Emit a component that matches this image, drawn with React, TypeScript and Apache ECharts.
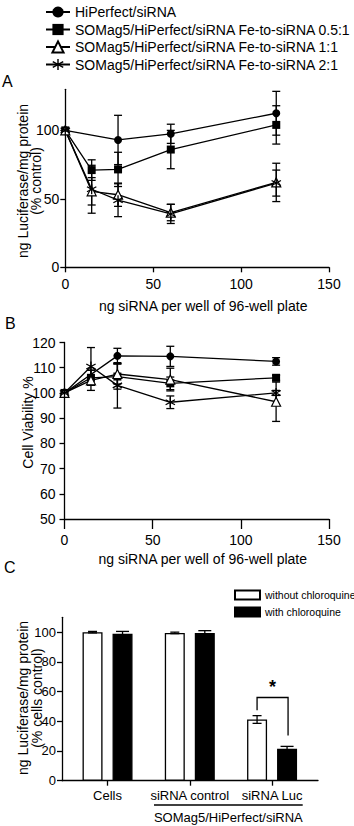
import React, { useEffect, useRef } from "react";
import * as echarts from "echarts";

// ---------- data ----------
const seriesNames = [
  "HiPerfect/siRNA",
  "SOMag5/HiPerfect/siRNA Fe-to-siRNA 0.5:1",
  "SOMag5/HiPerfect/siRNA Fe-to-siRNA 1:1",
  "SOMag5/HiPerfect/siRNA Fe-to-siRNA 2:1",
];

// Panel A: [ng siRNA, % control, error]
const aHiPerfect = [[0, 100, 0], [30, 93, 18], [60, 97.5, 7], [120, 112.5, 16]];
const aFe05 = [[0, 100, 0], [15, 71, 7.5], [30, 71.5, 12.5], [60, 86, 14], [120, 104, 14]];
const aFe1 = [[0, 100, 0], [15, 55.5, 10], [30, 53, 8.5], [60, 40, 6], [120, 62, 14]];
const aFe2 = [[0, 100, 0], [15, 57, 17.5], [30, 49, 12], [60, 39, 7], [120, 61.5, 9.5]];

// Panel B: [ng siRNA, cell viability %, error]
const bHiPerfect = [[0, 100, 0], [30, 114.7, 3], [60, 114.5, 4], [120, 112.5, 1.5]];
const bFe05 = [[0, 100, 0], [15, 106, 3], [30, 106.5, 5], [60, 103.8, 2.5], [120, 106, 1]];
const bFe1 = [[0, 100, 0], [15, 105, 4], [30, 107.5, 4], [60, 105.3, 4.5], [120, 96.5, 7.8]];
const bFe2 = [[0, 100, 0], [15, 110.5, 7.5], [30, 103, 9], [60, 96.3, 2.5], [120, 100, 1]];

// Panel C
const cCategories = ["Cells", "siRNA control", "siRNA Luc"];
const cWithout = [100, 99.5, 41.2];
const cWithoutErr = [0.5, 0.5, 2.6];
const cWith = [99, 99.5, 21.5];
const cWithErr = [1.5, 1.5, 1.6];
const cLegend = ["without chloroquine", "with chloroquine"];
// significance bracket: [category index, bracket level, left leg end, right leg end]
const cBracket = [[2, 56, 47.5, 30.5]];

const aXTicks = [0, 50, 100, 150];
const aYTicks = [0, 50, 100];
const bYTicks = [50, 60, 70, 80, 90, 100, 110, 120];
const cYTicks = [0, 20, 40, 60, 80, 100];

const FONT = "'Liberation Sans', Arial, sans-serif";
const STAR_PATH =
  "path://M-0.12,-1L0.12,-1L0.12,1L-0.12,1ZM0.926,0.396L0.806,0.604L-0.926,-0.396L-0.806,-0.604ZM0.806,-0.604L0.926,-0.396L-0.806,0.604L-0.926,0.396Z";

const symbols = [
  { symbol: "circle", size: 8, item: { color: "#000" } },
  { symbol: "rect", size: 8, item: { color: "#000" } },
  { symbol: "triangle", size: 9, item: { color: "#fff", borderColor: "#000", borderWidth: 1.2 } },
  { symbol: STAR_PATH, size: 10, item: { color: "#000" } },
];

function errRender(capHalf: number, offset = 0) {
  return (params: any, api: any) => {
    const x = api.value(0);
    const y = api.value(1);
    const e = api.value(2);
    if (!e) return null;
    const t = api.coord([x, y + e]);
    const b = api.coord([x, y - e]);
    const cx = t[0] + offset;
    const style = { stroke: "#000", lineWidth: 1.3 };
    return {
      type: "group",
      children: [
        { type: "line", shape: { x1: cx, y1: t[1], x2: cx, y2: b[1] }, style },
        { type: "line", shape: { x1: cx - capHalf, y1: t[1], x2: cx + capHalf, y2: t[1] }, style },
        { type: "line", shape: { x1: cx - capHalf, y1: b[1], x2: cx + capHalf, y2: b[1] }, style },
      ],
    };
  };
}

function lineSeries(data: number[][], idx: number, axis: number) {
  const s = symbols[idx];
  return [
    {
      type: "custom",
      xAxisIndex: axis,
      yAxisIndex: axis,
      data: data,
      encode: { x: 0, y: 1 },
      renderItem: errRender(4),
      z: 2,
      silent: true,
    },
    {
      type: "line",
      name: seriesNames[idx],
      xAxisIndex: axis,
      yAxisIndex: axis,
      data: data.map((d) => [d[0], d[1]]),
      symbol: s.symbol,
      symbolSize: s.size,
      showSymbol: true,
      itemStyle: s.item,
      lineStyle: { color: "#000", width: 1.3 },
      z: 3,
    },
  ];
}

function vText(text: string, x: number, y: number, size: number) {
  return {
    type: "text",
    x,
    y,
    rotation: Math.PI / 2,
    style: { text, fontSize: size, fontFamily: FONT, fill: "#000", align: "center", verticalAlign: "middle" },
  };
}

const axisLineStyle = { lineStyle: { color: "#000", width: 1.3 } };

export default function App() {
  const ref = useRef<HTMLDivElement>(null);
  useEffect(() => {
    if (!ref.current) return;
    const chart = echarts.init(ref.current, null, { renderer: "svg" });
    const option: any = {
      animation: false,
      textStyle: { fontFamily: FONT, color: "#000" },
      legend: [
        {
          orient: "vertical",
          left: 40,
          top: 0,
          itemWidth: 24,
          itemHeight: 14,
          itemGap: 3.5,
          selectedMode: false,
          textStyle: { fontSize: 14, color: "#000", fontFamily: FONT },
          data: seriesNames,
        },
        {
          orient: "vertical",
          left: 229,
          top: 584.5,
          itemWidth: 25,
          itemHeight: 9,
          itemGap: 6,
          icon: "rect",
          selectedMode: false,
          textStyle: { fontSize: 10.5, color: "#000", fontFamily: FONT },
          data: cLegend,
        },
      ],
      grid: [
        { left: 65.3, top: 89.3, width: 263.7, height: 178 },
        { left: 64.5, top: 342.5, width: 264.5, height: 176.5 },
        { left: 62, top: 617.3, width: 256, height: 163.4 },
        { left: 66.4, top: 617.3, width: 246.8, height: 163.4 },
      ],
      xAxis: [
        {
          gridIndex: 0,
          type: "value",
          min: 0,
          max: 150,
          interval: 50,
          splitLine: { show: false },
          axisLine: axisLineStyle,
          axisTick: { length: 5, lineStyle: { color: "#000", width: 1.3 }, customValues: aXTicks },
          axisLabel: { fontSize: 14, margin: 10, color: "#000", customValues: aXTicks },
          name: "ng siRNA per well of 96-well plate",
          nameLocation: "middle",
          nameGap: 32,
          nameMoveOverlap: false,
          nameTextStyle: { fontSize: 14, color: "#000", padding: [0, 0, 0, 12] },
        },
        {
          gridIndex: 1,
          type: "value",
          min: 0,
          max: 150,
          interval: 50,
          splitLine: { show: false },
          axisLine: axisLineStyle,
          axisTick: { length: 10, lineStyle: { color: "#000", width: 1.3 }, customValues: aXTicks },
          axisLabel: { fontSize: 14, margin: 14, color: "#000", customValues: aXTicks },
          name: "ng siRNA per well of 96-well plate",
          nameLocation: "middle",
          nameGap: 33,
          nameMoveOverlap: false,
          nameTextStyle: { fontSize: 14, color: "#000", padding: [0, 0, 0, 12] },
        },
        {
          gridIndex: 2,
          type: "value",
          min: 0,
          max: 1,
          splitLine: { show: false },
          axisLine: axisLineStyle,
          axisTick: { show: false },
          axisLabel: { show: false },
        },
        {
          gridIndex: 3,
          type: "category",
          data: cCategories,
          axisLine: { show: false },
          axisTick: { show: true, alignWithLabel: true, length: 5, lineStyle: { color: "#000", width: 1.3 } },
          axisLabel: { fontSize: 13, margin: 8, color: "#000", interval: 0 },
        },
      ],
      yAxis: [
        {
          gridIndex: 0,
          type: "value",
          min: 0,
          max: 130,
          interval: 50,
          splitLine: { show: false },
          axisLine: { show: true, ...axisLineStyle },
          axisTick: { show: true, length: 5, lineStyle: { color: "#000", width: 1.3 }, customValues: aYTicks },
          axisLabel: { fontSize: 14, margin: 6, color: "#000", customValues: aYTicks },
        },
        {
          gridIndex: 1,
          type: "value",
          min: 50,
          max: 120,
          interval: 10,
          splitLine: { show: false },
          axisLine: { show: true, ...axisLineStyle },
          axisTick: { show: true, length: 5, lineStyle: { color: "#000", width: 1.3 }, customValues: bYTicks },
          axisLabel: { fontSize: 14, margin: 9, color: "#000", customValues: bYTicks },
        },
        {
          gridIndex: 2,
          type: "value",
          min: 0,
          max: 110,
          interval: 20,
          splitLine: { show: false },
          axisLine: { show: true, ...axisLineStyle },
          axisTick: { show: true, length: 5, lineStyle: { color: "#000", width: 1.3 }, customValues: cYTicks },
          axisLabel: { fontSize: 13, margin: 6, color: "#000", customValues: cYTicks },
        },
        {
          gridIndex: 3,
          type: "value",
          min: 0,
          max: 110,
          show: false,
          splitLine: { show: false },
        },
      ],
      series: [
        ...lineSeries(aHiPerfect, 0, 0),
        ...lineSeries(aFe05, 1, 0),
        ...lineSeries(aFe1, 2, 0),
        ...lineSeries(aFe2, 3, 0),
        ...lineSeries(bHiPerfect, 0, 1),
        ...lineSeries(bFe05, 1, 1),
        ...lineSeries(bFe1, 2, 1),
        ...lineSeries(bFe2, 3, 1),
        {
          type: "bar",
          name: cLegend[0],
          xAxisIndex: 3,
          yAxisIndex: 3,
          data: cWithout,
          barWidth: 20,
          barGap: "50%",
          itemStyle: { color: "#fff", borderColor: "#000", borderWidth: 1.3 },
        },
        {
          type: "bar",
          name: cLegend[1],
          xAxisIndex: 3,
          yAxisIndex: 3,
          data: cWith,
          barWidth: 20,
          barGap: "50%",
          itemStyle: { color: "#000", borderColor: "#000", borderWidth: 1.3 },
        },
        {
          type: "custom",
          xAxisIndex: 3,
          yAxisIndex: 3,
          encode: { x: 0, y: 1 },
          data: cWithout.map((v, i) => [i, v, cWithoutErr[i]]),
          renderItem: errRender(4.5, -15),
          z: 4,
          silent: true,
        },
        {
          type: "custom",
          xAxisIndex: 3,
          yAxisIndex: 3,
          encode: { x: 0, y: 1 },
          data: cWith.map((v, i) => [i, v, cWithErr[i]]),
          renderItem: errRender(6.5, 15),
          z: 4,
          silent: true,
        },
        {
          type: "custom",
          xAxisIndex: 3,
          yAxisIndex: 3,
          encode: { x: 0, y: 1 },
          data: cBracket,
          silent: true,
          z: 4,
          renderItem: (params: any, api: any) => {
            const c = api.coord([api.value(0), api.value(1)]);
            const l = api.coord([api.value(0), api.value(2)]);
            const r = api.coord([api.value(0), api.value(3)]);
            const x1 = c[0] - 15;
            const x2 = c[0] + 16;
            const style = { stroke: "#000", lineWidth: 1.3, fill: null };
            return {
              type: "group",
              children: [
                {
                  type: "polyline",
                  shape: { points: [[x1, l[1]], [x1, c[1]], [x2, c[1]], [x2, r[1]]] },
                  style,
                },
                {
                  type: "text",
                  x: (x1 + x2) / 2,
                  y: c[1] - 2,
                  style: {
                    text: "*",
                    fontSize: 18,
                    fontWeight: "bold",
                    fontFamily: FONT,
                    fill: "#000",
                    align: "center",
                    verticalAlign: "bottom",
                  },
                },
              ],
            };
          },
        },
      ],
      graphic: [
        { type: "text", left: 2, top: 73, style: { text: "A", fontSize: 16, fontFamily: FONT, fill: "#000" } },
        { type: "text", left: 5, top: 315, style: { text: "B", fontSize: 16, fontFamily: FONT, fill: "#000" } },
        { type: "text", left: 4, top: 559, style: { text: "C", fontSize: 16, fontFamily: FONT, fill: "#000" } },
        vText("ng Luciferase/mg protein", 23.3, 181, 14),
        vText("(% control)", 36, 181, 14),
        vText("Cell Viability %", 28, 422.5, 14),
        vText("ng Luciferase/mg protein", 23.3, 698, 14),
        vText("(% cells control)", 36.5, 698, 14),
        {
          type: "line",
          shape: { x1: 154, y1: 805, x2: 302.7, y2: 805 },
          style: { stroke: "#000", lineWidth: 1.3 },
        },
        {
          type: "text",
          x: 228.3,
          y: 817,
          style: {
            text: "SOMag5/HiPerfect/siRNA",
            fontSize: 13,
            fontFamily: FONT,
            fill: "#000",
            align: "center",
            verticalAlign: "middle",
          },
        },
      ],
    };
    chart.setOption(option);
    return () => chart.dispose();
  }, []);
  return <div ref={ref} style={{ width: 354, height: 826, position: "absolute", left: 0, top: 0 }} />;
}
